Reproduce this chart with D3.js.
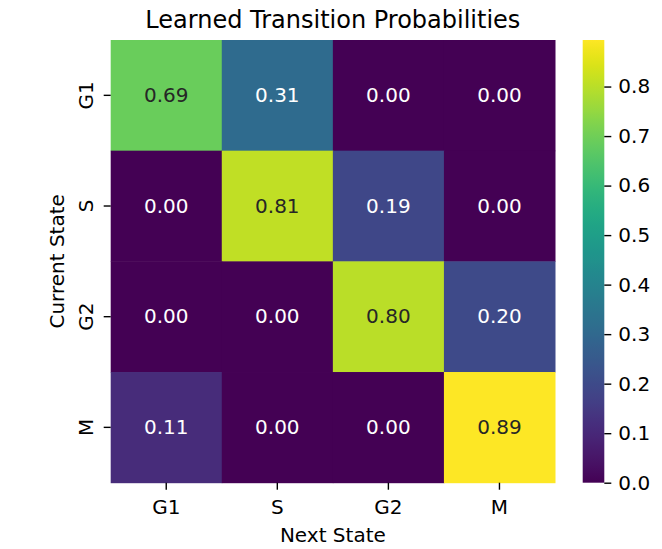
<!DOCTYPE html>
<html><head><meta charset="utf-8">
<script src="https://cdn.jsdelivr.net/npm/d3@7"></script>
<style>body{margin:0;background:#fff}svg{display:block}text{font-family:"DejaVu Sans",sans-serif}</style>
</head><body>
<svg id="c" width="662" height="549"></svg>
<script>
const states = ["G1","S","G2","M"];
const rowG1 = [0.69, 0.31, 0.00, 0.00];
const rowS  = [0.00, 0.81, 0.19, 0.00];
const rowG2 = [0.00, 0.00, 0.80, 0.20];
const rowM  = [0.11, 0.00, 0.00, 0.894];
const matrix = [rowG1, rowS, rowG2, rowM];
const cbTicks = [0.0,0.1,0.2,0.3,0.4,0.5,0.6,0.7,0.8];
const title = "Learned Transition Probabilities";
const xLabel = "Next State", yLabel = "Current State";

const FS = 20, TFS = 24, TL = 7, TP = 7, TW = 1.4;
const svg = d3.select("#c");
const L = 110.7, T = 40, R = 555, B = 482.7;
const x = d3.scaleBand().domain(states).range([L, R]);
const y = d3.scaleBand().domain(states).range([T, B]);
const vmax = d3.max(matrix.flat());
const color = d3.scaleSequential(d3.interpolateViridis).domain([0, vmax]);

const cells = [];
matrix.forEach((row, i) => row.forEach((v, j) => cells.push({r: states[i], c: states[j], v})));

svg.append("g").selectAll("rect").data(cells).join("rect")
  .attr("x", d => x(d.c)).attr("y", d => y(d.r))
  .attr("width", x.bandwidth() + 0.5).attr("height", y.bandwidth() + 0.5)
  .attr("fill", d => color(d.v));

function lum(c) {
  const rgb = d3.rgb(c);
  const f = v => { v /= 255; return v <= 0.03928 ? v / 12.92 : Math.pow((v + 0.055) / 1.055, 2.4); };
  return 0.2126 * f(rgb.r) + 0.7152 * f(rgb.g) + 0.0722 * f(rgb.b);
}
svg.append("g").selectAll("text").data(cells).join("text")
  .attr("x", d => x(d.c) + x.bandwidth() / 2).attr("y", d => y(d.r) + y.bandwidth() / 2 + 0.33 * FS)
  .attr("text-anchor", "middle")
  .attr("font-size", FS)
  .attr("fill", d => lum(color(d.v)) > 0.408 ? "#262626" : "#ffffff")
  .text(d => d.v.toFixed(2));

// x axis
const xa = svg.append("g").attr("transform", `translate(0,${B})`)
  .call(d3.axisBottom(x).tickSize(TL).tickPadding(TP));
xa.select(".domain").remove();
xa.selectAll("line").attr("stroke", "#000").attr("stroke-width", TW);
xa.selectAll("text").attr("font-size", FS).attr("fill", "#000").attr("font-family", "DejaVu Sans")
  .attr("dy", null).attr("y", 514 - B);

// y axis
const ya = svg.append("g").attr("transform", `translate(${L},0)`)
  .call(d3.axisLeft(y).tickSize(TL).tickPadding(TP));
ya.select(".domain").remove();
ya.selectAll("line").attr("stroke", "#000").attr("stroke-width", TW);
const yb = 93 - L;
ya.selectAll("text").attr("font-size", FS).attr("fill", "#000").attr("font-family", "DejaVu Sans")
  .attr("text-anchor", "middle").attr("dy", null)
  .attr("x", 0).attr("y", 0)
  .attr("transform", `translate(${yb},0) rotate(-90)`);

// labels
svg.append("text").attr("x", (L + R) / 2).attr("y", 27.5).attr("text-anchor", "middle")
  .attr("font-size", TFS).attr("fill", "#000").text(title);
svg.append("text").attr("x", (L + R) / 2).attr("y", 542).attr("text-anchor", "middle")
  .attr("font-size", FS).attr("fill", "#000").text(xLabel);
svg.append("text").attr("transform", `translate(64,${(T + B) / 2}) rotate(-90)`).attr("text-anchor", "middle")
  .attr("font-size", FS).attr("fill", "#000").text(yLabel);

// colorbar
const cbX = 582.7, cbW = 21.6;
const cy = d3.scaleLinear().domain([0, vmax]).range([B, T]);
const defs = svg.append("defs");
const grad = defs.append("linearGradient").attr("id", "vg").attr("x1", 0).attr("y1", 1).attr("x2", 0).attr("y2", 0);
d3.range(0, 1.0001, 0.02).forEach(t => grad.append("stop").attr("offset", t).attr("stop-color", d3.interpolateViridis(t)));
svg.append("rect").attr("x", cbX).attr("y", T).attr("width", cbW).attr("height", B - T).attr("fill", "url(#vg)");
const ca = svg.append("g").attr("transform", `translate(${cbX + cbW},0)`)
  .call(d3.axisRight(cy).tickValues(cbTicks).tickFormat(d3.format(".1f")).tickSize(TL).tickPadding(TP));
ca.select(".domain").remove();
ca.selectAll("line").attr("stroke", "#000").attr("stroke-width", TW);
ca.selectAll("text").attr("font-size", FS).attr("fill", "#000").attr("font-family", "DejaVu Sans");
</script>
</body></html>
